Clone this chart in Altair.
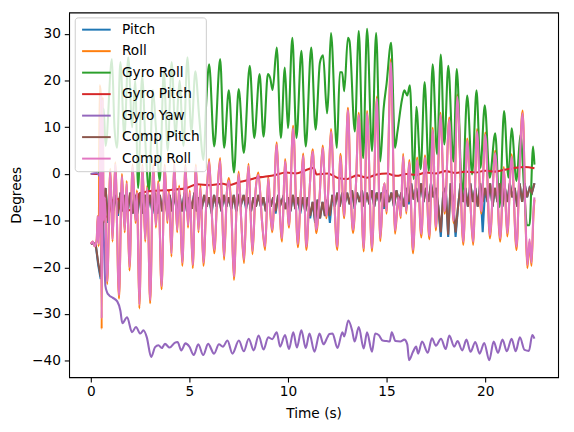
import altair as alt
import pandas as pd

series_names = ["Pitch", "Roll", "Gyro Roll", "Gyro Pitch", "Gyro Yaw", "Comp Pitch", "Comp Roll"]
series_colors = ["#1f77b4", "#ff7f0e", "#2ca02c", "#d62728", "#9467bd", "#8c564b", "#e377c2"]
x_ticks = [0, 5, 10, 15, 20]
y_ticks = [-40, -30, -20, -10, 0, 10, 20, 30]

# sample grid of the pitch signals (s)
pitch_t = [i * 0.125 for i in range(181)]

comp_pitch_v = [
    -15, -14.8, -15.2, -19, -22, -8, -3, -10,
    -4, -8, -4.5, -8.5, -4, -8, -4.5, -8,
    -4, -8.5, -4.5, -8, -4, -8.5, -4.5, -8,
    -4.5, -8, -4, -8.5, -4.5, -8, -4, -8.5,
    -4.5, -8, -4, -8.5, -4.5, -8, -4, -8,
    -5, -7.5, -4, -8, -5, -7.5, -4.5, -7,
    -5, -8, -4.5, -7, -5, -8, -4.5, -7,
    -5, -7.5, -4.5, -8, -5, -6.5, -4.5, -7,
    -5, -8, -5, -7, -4.5, -7, -5, -8,
    -4.5, -7, -5, -8, -4.5, -6.5, -5, -7.5,
    -5, -8, -4.5, -7.5, -5, -8, -5, -8,
    -5, -9, -6, -10, -5.5, -9.5, -6, -9,
    -5.5, -9, -4.5, -7, -4, -7, -4, -6.5,
    -4, -6.5, -3.5, -7, -4, -6, -3.5, -7,
    -4, -6.5, -3.5, -7, -4, -6, -4, -7,
    -3.5, -6, -4, -7, -3.5, -6, -4, -7,
    -3, -6, -2, -5.5, -3, -6, -2, -6,
    -3, -6, -2, -5, -3, -7, -12.5, -4,
    -3, -13, -2, -6, -12.5, -7, -2, -6,
    -3, -7, -2, -6, -3, -7, -2, -6,
    -3, -6, -2, -7, -3, -6, -2, -7,
    -3, -6, -2, -5, -3, -7, -2, -6,
    -2, -5, -3, -4, -2,
]

pitch_v = [
    -15, -14.8, -15.2, -19.5, -22.5, -8, -3, -10.5,
    -4, -8, -4.5, -9, -4, -8, -4.5, -8,
    -4, -8.5, -4.5, -8.5, -4, -8.5, -4.5, -8,
    -4.5, -8.5, -4, -8.5, -4.5, -8, -4, -8.5,
    -4.5, -8, -4, -9, -4.5, -8, -4, -8,
    -5, -7.5, -4, -8, -5, -7.5, -4.5, -7,
    -5, -8.5, -4.5, -7, -5, -8, -4.5, -7,
    -5, -7.5, -4.5, -8, -5, -6.5, -4.5, -7.5,
    -5, -8, -5, -7, -4.5, -7, -5, -8,
    -4.5, -7, -5, -8.5, -4.5, -6.5, -5, -7.5,
    -5, -8, -4.5, -7.5, -5, -8.5, -5, -8,
    -5, -9.5, -6, -10.5, -5.5, -9.5, -6, -9,
    -5.5, -10.5, -4.5, -7, -4, -7, -4, -6.5,
    -4, -6.5, -3.5, -7.5, -4, -6, -3.5, -7,
    -4, -6.5, -3.5, -7, -4, -6, -4, -7.5,
    -3.5, -6, -4, -7, -3.5, -6, -4, -7,
    -3, -6.5, -2, -5.5, -3, -6, -2, -6,
    -3, -6, -2, -5, -3, -7, -13.5, -4,
    -3, -13.5, -2, -6, -13.5, -7, -2, -6,
    -3, -7, -2, -6, -3, -7, -2, -12.5,
    -3, -6, -2, -7, -3, -6, -2, -7,
    -3, -6, -2, -5, -3, -7, -2, -6,
    -2, -5, -3, -4, -2,
]

comp_roll = [
    (0.0, -15), (0.1, -14.5), (0.2, -15.5), (0.3, -14), (0.35, -9), (0.4, -15), (0.45, -8),
    (0.5, 17), (0.55, -31), (0.6, 16), (0.65, -10), (0.72, -5), (0.83, -23), (0.99, 0.6),
    (1.1, -14), (1.24, 2), (1.43, -26), (1.58, -0.5), (1.72, -12), (1.82, -2), (1.96, -20),
    (2.12, 1.5), (2.27, -10), (2.34, -4), (2.46, -28), (2.62, 1.5), (2.76, -14), (2.86, -3),
    (3.01, -27), (3.17, 1.5), (3.3, -11), (3.42, -2), (3.59, -24), (3.75, 1.5), (3.88, -10),
    (3.96, -4), (4.09, -17), (4.23, 2), (4.38, -12), (4.48, -3), (4.64, -19), (4.8, 1.5),
    (4.93, -11), (5.02, -4), (5.17, -19.5), (5.33, 1.5), (5.46, -12), (5.56, -3), (5.71, -19),
    (5.86, -6), (6.0, 2.7), (6.13, -8), (6.26, -16.3), (6.42, -4), (6.56, 2.9), (6.66, -8),
    (6.76, -17.7), (6.9, -4), (7.0, -1.4), (7.13, -8), (7.26, -22), (7.4, -6), (7.5, 0),
    (7.63, -10), (7.77, -18.4), (7.9, -5), (8.0, 1.7), (8.1, -8), (8.2, -16.5), (8.35, -4),
    (8.5, -0.2), (8.68, -10), (8.84, -15.6), (9.0, -1), (9.1, -8), (9.2, -12), (9.43, 6.3),
    (9.56, -6), (9.7, -13.8), (9.85, 2.7), (10.05, -11), (10.26, 9.8), (10.5, -15), (10.65, -4),
    (10.77, 3.9), (10.93, -15.6), (11.1, -3), (11.26, 4.8), (11.43, -12), (11.6, -5), (11.76, 5.6),
    (11.95, -9), (12.05, -3), (12.18, 9.1), (12.35, -6), (12.5, -15.6), (12.66, 3.8), (12.85, -9),
    (13.04, 13.7), (13.18, -4), (13.3, -12), (13.45, -2), (13.59, 12.6), (13.84, -15.9), (14.01, 13.0),
    (14.26, -15.9), (14.51, 16.1), (14.68, -13.7), (14.82, -4), (14.9, -2), (15.0, -8), (15.22, 23.9),
    (15.43, -12.1), (15.6, -5), (15.72, -9), (15.84, 3.8), (16.0, -8), (16.15, 2.5), (16.34, -16.3),
    (16.55, 3), (16.76, -12.9), (16.95, 3.5), (17.17, -13.3), (17.34, 9.4), (17.5, -11.4), (17.73, 12.6),
    (17.95, -8), (18.18, 11.6), (18.4, -10), (18.59, 16.5), (18.89, -14.5), (19.09, 7.1), (19.25, -6),
    (19.39, -14.5), (19.59, 9.1), (19.8, -8), (20.01, 8.4), (20.24, -13.1), (20.51, 4.5), (20.76, -13.8),
    (20.95, 1), (21.12, -12.7), (21.34, 3.7), (21.59, -15.6), (21.75, 2), (21.9, 13), (22.05, -10),
    (22.14, -19.5), (22.25, -14), (22.35, -19), (22.45, -8), (22.5, -5),
]

roll = [
    (0.0, -15), (0.1, -14.5), (0.2, -15.5), (0.3, -14), (0.35, -9), (0.4, -15.5), (0.45, 19),
    (0.5, 17.5), (0.55, -33.2), (0.6, 16.5), (0.65, -10.5), (0.72, -5), (0.83, -23.6), (0.99, 1.1),
    (1.1, -14.5), (1.24, 2.5), (1.43, -26.7), (1.58, 0), (1.72, -12.5), (1.82, -1.5), (1.96, -20.7),
    (2.12, 2), (2.27, -10.5), (2.34, -3.5), (2.46, -28.8), (2.62, 2), (2.76, -14.5), (2.86, -2.5),
    (3.01, -27.7), (3.17, 2), (3.3, -11.5), (3.42, -1.5), (3.59, -24.7), (3.75, 2), (3.88, -10.5),
    (3.96, -3.5), (4.09, -17.7), (4.23, 2.5), (4.38, -12.5), (4.48, -2.5), (4.64, -19.7), (4.8, 2),
    (4.93, -11.5), (5.02, -3.5), (5.17, -20.2), (5.33, 2), (5.46, -12.5), (5.56, -2.5), (5.71, -19.7),
    (5.86, -6), (6.0, 3.2), (6.13, -8), (6.26, -17), (6.42, -4), (6.56, 3.4), (6.66, -8),
    (6.76, -18.4), (6.9, -4), (7.0, -0.9), (7.13, -8), (7.26, -22.7), (7.4, -6), (7.5, 0.5),
    (7.63, -10), (7.77, -19.1), (7.9, -5), (8.0, 2.2), (8.1, -8), (8.2, -17.2), (8.35, -4),
    (8.5, 0.3), (8.68, -10), (8.84, -16.3), (9.0, -0.5), (9.1, -8), (9.2, -12.5), (9.43, 6.8),
    (9.56, -6), (9.7, -14.5), (9.85, 3.2), (10.05, -11.5), (10.26, 10.3), (10.5, -15.7), (10.65, -4),
    (10.77, 4.4), (10.93, -16.3), (11.1, -3), (11.26, 5.3), (11.43, -12.7), (11.6, -5), (11.76, 6.1),
    (11.95, -9.5), (12.05, -3), (12.18, 9.6), (12.35, -6), (12.5, -16.3), (12.66, 4.3), (12.85, -9.5),
    (13.04, 14.2), (13.18, -4), (13.3, -12.7), (13.45, -2), (13.59, 13.1), (13.84, -16.6), (14.01, 13.5),
    (14.26, -16.6), (14.51, 16.6), (14.68, -14.4), (14.82, -4), (14.9, -2), (15.0, -8.5), (15.22, 24.6),
    (15.43, -12.8), (15.6, -5), (15.72, -9.5), (15.84, 4.3), (16.0, -8.5), (16.15, 3), (16.34, -17),
    (16.55, 3.5), (16.76, -13.6), (16.95, 4), (17.17, -14), (17.34, 9.9), (17.5, -12.1), (17.73, 13.1),
    (17.95, -8.5), (18.18, 12.1), (18.4, -10.5), (18.59, 17), (18.89, -15.2), (19.09, 7.6), (19.25, -6),
    (19.39, -15.2), (19.59, 9.6), (19.8, -8.5), (20.01, 8.9), (20.24, -13.8), (20.51, 5), (20.76, -14.5),
    (20.95, 1.5), (21.12, -13.4), (21.34, 4.2), (21.59, -16.3), (21.75, 2.5), (21.9, 13.6), (22.05, -10.5),
    (22.14, -20.2), (22.25, -14.5), (22.35, -19.7), (22.45, -8.5), (22.5, -5.5),
]

gyro_roll = [
    (0.0, 0.0), (0.3, 0.0), (0.45, 0.5), (0.55, 5), (0.65, 14), (0.75, 6), (1.07, 24.6), (1.2, 10),
    (1.33, 5.6), (1.5, 24), (1.7, 8), (1.9, 25), (2.1, 10), (2.25, 20), (2.4, -3), (2.6, 21),
    (2.8, 4), (2.95, -3.6), (3.15, 18), (3.3, 10), (3.5, -1.5), (3.7, 22), (3.9, 5), (4.1, 24),
    (4.3, 8), (4.5, 20), (4.7, 6), (4.9, 25), (5.1, 9), (5.3, 22), (5.5, 12), (5.72, 3),
    (5.85, 15), (6.0, 23.5), (6.26, 5.9), (6.56, 24.6), (6.76, 5.6), (7.0, 17.9), (7.26, 0.3),
    (7.5, 18.2), (7.76, 4.5), (8.06, 23.2), (8.29, 7.7), (8.56, 21.4), (8.76, 8.0), (8.98, 21.4),
    (9.1, 20.5), (9.22, 18), (9.43, 27.1), (9.64, 7.7), (9.84, 22.8), (10.0, 9.8), (10.22, 29.2),
    (10.43, 7.7), (10.68, 26.4), (10.9, 5.9), (11.18, 27.1), (11.4, 9.5), (11.62, 23.9), (11.78, 25.4),
    (11.98, 13), (12.05, 17), (12.18, 30.2), (12.48, 5.6), (12.63, 21.8), (12.75, 21.8), (12.85, 17.7),
    (13.04, 29.2), (13.12, 28.5), (13.39, 9.1), (13.59, 30.6), (13.81, 3.4), (14.01, 31.1), (14.26, 4.9),
    (14.47, 30.2), (14.68, 2.7), (14.85, 14), (15.0, 19.3), (15.23, 28.1), (15.43, 5.6), (15.55, 9),
    (15.79, 16.1), (15.9, 17.9), (16.05, 16.8), (16.18, 19), (16.38, -1.1), (16.51, 14.4), (16.73, 1),
    (16.93, 19.7), (17.14, 0.6), (17.34, 23.5), (17.56, 4.2), (17.75, 25.6), (17.93, 6.3), (18.13, 23.2),
    (18.39, 2.7), (18.56, 22.5), (18.84, -4.6), (19.09, 16.8), (19.34, -0.1), (19.56, 17.9), (19.76, 1.3),
    (19.98, 14.7), (20.23, -0.8), (20.51, 8.7), (20.73, -7.1), (20.96, 13.5), (21.18, -0.8), (21.34, 9.8),
    (21.59, -1.5), (21.79, 8.4), (22.0, -5), (22.12, -11), (22.25, -11), (22.43, 5.9), (22.5, 2.0),
]

gyro_pitch = [
    (0.0, 0), (0.45, 0), (0.55, -4), (0.7, -9), (0.85, -9.2), (1.0, -7), (1.15, -5.5), (1.4, -5.3),
    (1.5, -7.5), (1.8, -7.8), (2.1, -7.6), (2.3, -7.2), (2.45, -4.2), (2.8, -3.8), (3.3, -3.6),
    (3.8, -3.5), (4.3, -3.3), (4.8, -3.1), (5.4, -2.2), (6.0, -2.4), (6.7, -2.1), (7.0, -2.4),
    (7.5, -1.8), (8.0, -1.3), (8.3, -0.9), (8.8, -0.6), (9.3, -0.3), (9.9, 0.3), (10.4, 0.1),
    (10.9, 0.8), (11.3, 1.3), (11.45, -0.1), (12.0, 0.1), (12.5, -0.8), (13.0, -1.1), (13.5, -0.3),
    (14.0, -0.8), (14.5, -0.1), (15.0, 0.1), (15.5, -0.4), (16.0, 0), (16.5, -0.2), (17.0, 0.3),
    (17.5, 0.1), (18.0, 0.6), (18.5, 0.2), (19.0, 0.5), (19.5, 0.3), (20.0, 0.7), (20.5, 0.5),
    (21.0, 0.9), (21.5, 1.3), (22.0, 1.5), (22.5, 1.2),
]

gyro_yaw = [
    (0.0, 0), (0.3, 0.2), (0.45, -0.5), (0.58, -1.5), (0.65, -12), (0.74, -24), (0.83, -25.4),
    (0.93, -26), (1.1, -26.5), (1.34, -27.3), (1.5, -29.3), (1.6, -32), (1.84, -30.7), (2.09, -33.9),
    (2.29, -32.8), (2.51, -34.2), (2.67, -33.5), (2.84, -35), (3.06, -39.2), (3.26, -37.1), (3.43, -36.7),
    (3.6, -37.3), (3.76, -36.4), (4.0, -37.2), (4.25, -36.2), (4.4, -36), (4.59, -37.8), (4.8, -36.3),
    (5.0, -37), (5.22, -38.8), (5.45, -36.5), (5.7, -38.8), (5.95, -36.4), (6.25, -38.5), (6.5, -36.5),
    (6.7, -37), (6.93, -35.7), (7.18, -38.5), (7.51, -35.7), (7.76, -38), (8.01, -35.3), (8.26, -37.8),
    (8.51, -34.6), (8.76, -37.6), (9.0, -35), (9.2, -35.4), (9.43, -33.9), (9.6, -37), (9.85, -34.5),
    (10.05, -37.5), (10.27, -33.9), (10.45, -37.2), (10.68, -33.5), (10.9, -37.3), (11.09, -34.2),
    (11.34, -38.1), (11.6, -34.2), (11.8, -36.5), (12.0, -35), (12.1, -34.3), (12.26, -34.2),
    (12.51, -37.3), (12.76, -33.9), (12.85, -34.8), (13.06, -31.4), (13.25, -33.5), (13.38, -35.9),
    (13.59, -32.8), (13.84, -37.4), (14.01, -33.9), (14.26, -38.1), (14.42, -34.2), (14.6, -34.5),
    (14.8, -35.7), (15.0, -35.8), (15.16, -35.9), (15.26, -33.9), (15.45, -35.8), (15.7, -35.9),
    (15.9, -35.5), (16.05, -36.5), (16.14, -39.9), (16.34, -38.1), (16.5, -37), (16.6, -38.5),
    (16.8, -35.9), (17.09, -38.3), (17.3, -35.2), (17.5, -36.8), (17.76, -35.3), (18.0, -37.5),
    (18.18, -34.6), (18.43, -37), (18.6, -35.8), (18.84, -37.8), (19.05, -35.5), (19.26, -38.1),
    (19.5, -36), (19.72, -38.5), (19.95, -36.2), (20.21, -39.9), (20.43, -35.9), (20.65, -38.3),
    (20.88, -35.5), (21.1, -38), (21.34, -35.3), (21.55, -38), (21.76, -35), (22.0, -37.7),
    (22.22, -37.9), (22.39, -34.5), (22.5, -35.3),
]


def pairs_frame(pairs, name):
    return pd.DataFrame({"t": [p[0] for p in pairs], "v": [p[1] for p in pairs], "series": name})


frames = [
    (pd.DataFrame({"t": pitch_t, "v": pitch_v, "series": "Pitch"}), "linear"),
    (pairs_frame(roll, "Roll"), "monotone"),
    (pairs_frame(gyro_roll, "Gyro Roll"), "monotone"),
    (pairs_frame(gyro_pitch, "Gyro Pitch"), "monotone"),
    (pairs_frame(gyro_yaw, "Gyro Yaw"), "monotone"),
    (pd.DataFrame({"t": pitch_t, "v": comp_pitch_v, "series": "Comp Pitch"}), "linear"),
    (pairs_frame(comp_roll, "Comp Roll"), "monotone"),
]

x_enc = alt.X("t:Q", scale=alt.Scale(domain=[-1.1, 23.7], nice=False, zero=False),
              axis=alt.Axis(values=x_ticks, title="Time (s)", titleX=248, titleY=37,
                            titleBaseline="middle", titleAlign="center", labelBaseline="top",
                            labelPadding=3))
y_enc = alt.Y("v:Q", scale=alt.Scale(domain=[-43.55, 34.6], nice=False, zero=False),
              axis=alt.Axis(values=y_ticks, title="Degrees", titleX=-53, titleY=185,
                            titleAngle=270, titleBaseline="middle", titleAlign="center",
                            labelPadding=4))
color_enc = alt.Color("series:N", scale=alt.Scale(domain=series_names, range=series_colors),
                      legend=alt.Legend(title=None, orient="none", legendX=5.7, legendY=5,
                                        symbolType="M-2.9,0H2.9", symbolSize=100, symbolStrokeWidth=2,
                                        symbolOffset=9.5,
                                        labelFontSize=13.9, labelFont="DejaVu Sans", labelColor="black",
                                        rowPadding=6.8, padding=5.5, labelOffset=19,
                                        fillColor="rgba(255,255,255,0.8)", strokeColor="#cccccc",
                                        cornerRadius=3, zindex=1))

layers = []
for df, interp in frames:
    layers.append(
        alt.Chart(df).mark_line(strokeWidth=2.1, interpolate=interp).encode(
            x=x_enc, y=y_enc, color=color_enc
        )
    )

chart = alt.layer(*layers).properties(
    width=496, height=370,
    autosize=alt.AutoSizeParams(type="none"),
    padding={"left": 62, "top": 1.5, "right": 8, "bottom": 50},
).configure_view(stroke="black", strokeWidth=1.1).configure_axis(
    labelFont="DejaVu Sans", labelFontSize=13.9, labelColor="black",
    titleFont="DejaVu Sans", titleFontSize=13.9, titleFontWeight="normal", titleColor="black",
    tickColor="black", tickWidth=1.1, tickSize=4.9, domain=False, grid=False,
)

chart.save("out.html", embed_options={"renderer": "svg", "actions": False})
